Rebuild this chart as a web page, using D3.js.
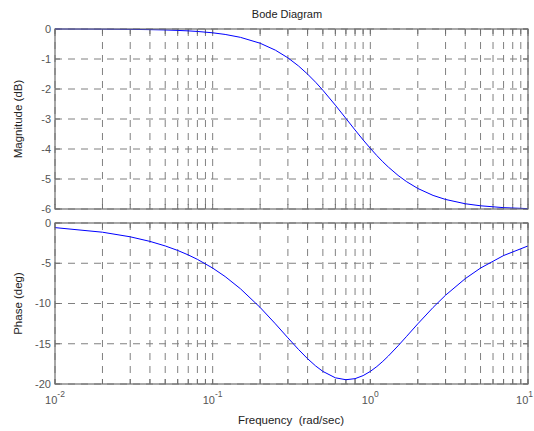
<!DOCTYPE html>
<html>
<head>
<meta charset="utf-8">
<script src="https://cdn.jsdelivr.net/npm/d3@7"></script>
<style>
  html, body { margin: 0; padding: 0; background: #fff; }
  svg { display: block; }
  text { font-family: "Liberation Sans", Arial, sans-serif; }
</style>
</head>
<body>
<svg id="chart" width="534" height="431"></svg>
<script>
// Data (frequency in rad/sec)
const freq     = [0.01, 0.02, 0.03, 0.04, 0.05, 0.06, 0.07, 0.08, 0.1, 0.12, 0.15, 0.2, 0.25, 0.3, 0.35, 0.4, 0.45, 0.5, 0.6, 0.7, 0.8, 0.9, 1.0, 1.1, 1.2, 1.3, 1.5, 1.7, 2, 2.5, 3, 4, 5, 7, 10];
const magDb    = [-0.001, -0.005, -0.012, -0.021, -0.032, -0.047, -0.063, -0.082, -0.127, -0.181, -0.278, -0.474, -0.706, -0.961, -1.230, -1.504, -1.776, -2.041, -2.539, -2.981, -3.366, -3.697, -3.979, -4.220, -4.426, -4.601, -4.881, -5.090, -5.315, -5.547, -5.682, -5.825, -5.893, -5.955, -5.988];
const phaseDeg = [-0.573, -1.145, -1.715, -2.283, -2.848, -3.409, -3.966, -4.516, -5.599, -6.653, -8.168, -10.49, -12.529, -14.265, -15.702, -16.858, -17.760, -18.435, -19.231, -19.470, -19.335, -18.958, -18.435, -17.830, -17.186, -16.531, -15.255, -14.076, -12.529, -10.492, -8.973, -6.911, -5.599, -4.045, -2.848];
const magTicks   = [0, -1, -2, -3, -4, -5, -6];
const phaseTicks = [0, -5, -10, -15, -20];
const xTickExps  = [-2, -1, 0, 1];
const titleText = "Bode Diagram";
const xLabel = "Frequency  (rad/sec)";
const magLabel = "Magnitude (dB)";
const phaseLabel = "Phase (deg)";

const svg = d3.select("#chart");
const L = 55, R = 528;
const x = d3.scaleLog().domain([0.01, 10]).range([L, R]);
const yMag = d3.scaleLinear().domain([-6, 0]).range([209, 29]);
const yPh  = d3.scaleLinear().domain([-20, 0]).range([384, 223]);

const frameColor = "#6e6e6e", gridColor = "#808080", tickText = "#555";
const minorX = x.ticks();

function panel(y, ticks, data, label) {
  const [y0, y1] = y.range(); // bottom, top
  const g = svg.append("g");
  g.selectAll(".vg").data(minorX).join("line")
    .attr("x1", d => x(d)).attr("x2", d => x(d))
    .attr("y1", y1).attr("y2", y0)
    .attr("stroke", gridColor).attr("stroke-width", 1)
    .attr("stroke-dasharray", "7,6");
  g.selectAll(".hg").data(ticks).join("line")
    .attr("x1", L).attr("x2", R)
    .attr("y1", d => y(d)).attr("y2", d => y(d))
    .attr("stroke", gridColor).attr("stroke-width", 1)
    .attr("stroke-dasharray", "7,6");
  g.selectAll(".tb").data(minorX).join("line")
    .attr("x1", d => x(d)).attr("x2", d => x(d))
    .attr("y1", y0).attr("y2", y0 - 5)
    .attr("stroke", frameColor);
  g.selectAll(".tt").data(minorX).join("line")
    .attr("x1", d => x(d)).attr("x2", d => x(d))
    .attr("y1", y1).attr("y2", y1 + 5)
    .attr("stroke", frameColor);
  g.selectAll(".tl").data(ticks).join("line")
    .attr("x1", L).attr("x2", L + 5)
    .attr("y1", d => y(d)).attr("y2", d => y(d))
    .attr("stroke", frameColor);
  g.selectAll(".tr").data(ticks).join("line")
    .attr("x1", R).attr("x2", R - 5)
    .attr("y1", d => y(d)).attr("y2", d => y(d))
    .attr("stroke", frameColor);
  g.append("path")
    .datum(freq.map((f, i) => [f, data[i]]))
    .attr("fill", "none").attr("stroke", "#0000ff").attr("stroke-width", 1)
    .attr("d", d3.line().x(d => x(d[0])).y(d => y(d[1])));
  g.append("rect").attr("x", L).attr("y", y1).attr("width", R - L).attr("height", y0 - y1)
    .attr("fill", "none").attr("stroke", frameColor).attr("stroke-width", 1.2);
  g.selectAll(".yl").data(ticks).join("text")
    .attr("x", L - 4).attr("y", d => y(d)).attr("dy", "0.35em")
    .attr("text-anchor", "end").attr("font-size", 11).attr("fill", tickText)
    .text(d => d);
  g.append("text")
    .attr("transform", `translate(22,${(y0 + y1) / 2}) rotate(-90)`)
    .attr("text-anchor", "middle").attr("font-size", 11.5).attr("fill", "#222")
    .text(label);
}

panel(yMag, magTicks, magDb, magLabel);
panel(yPh, phaseTicks, phaseDeg, phaseLabel);

// x tick labels with superscripts (last one kept inside the window)
const xl = svg.selectAll(".xl").data(xTickExps).join("text")
  .attr("x", (d, i) => i === xTickExps.length - 1 ? 533 : x(Math.pow(10, d)))
  .attr("y", 404)
  .attr("text-anchor", (d, i) => i === xTickExps.length - 1 ? "end" : "middle")
  .attr("font-size", 11).attr("fill", tickText);
xl.append("tspan").text("10");
xl.append("tspan").attr("dy", -7).attr("font-size", 8.5).text(d => d);

svg.append("text").attr("x", 291).attr("y", 424).attr("text-anchor", "middle")
  .attr("font-size", 11.5).attr("fill", "#222").style("white-space", "pre").text(xLabel);
svg.append("text").attr("x", 287).attr("y", 18).attr("text-anchor", "middle")
  .attr("font-size", 11).attr("fill", "#222").text(titleText);
</script>
</body>
</html>
